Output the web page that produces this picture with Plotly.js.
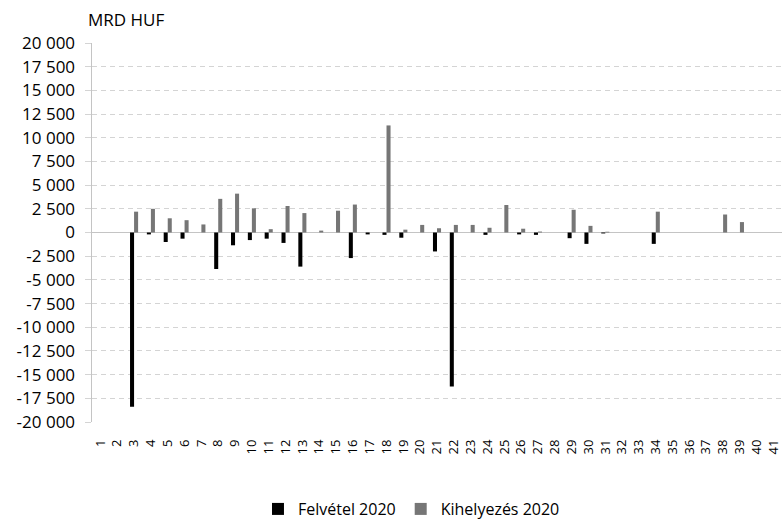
<!DOCTYPE html>
<html>
<head>
<meta charset="utf-8">
<script src="https://cdn.plot.ly/plotly-3.0.1.min.js"></script>
<style>html,body{margin:0;padding:0;background:#fff;}#chart{width:783px;height:521px;}</style>
</head>
<body>
<div id="chart"></div>
<script>
var categories = [1,2,3,4,5,6,7,8,9,10,11,12,13,14,15,16,17,18,19,20,21,22,23,24,25,26,27,28,29,30,31,32,33,34,35,36,37,38,39,40,41];
var felvetel2020 = [0,0,-18400,-200,-1000,-650,0,-3850,-1350,-800,-650,-1100,-3600,0,0,-2700,-200,-250,-550,0,-2000,-16250,0,-250,0,-200,-250,0,-600,-1200,-100,0,0,-1200,0,0,0,0,0,0,0];
var kihelyezes2020 = [0,0,2200,2500,1500,1300,850,3550,4100,2550,350,2800,2050,200,2300,2950,0,11300,300,800,450,800,800,500,2900,400,100,0,2400,700,80,0,0,2200,0,0,0,1900,1100,0,0];
var yTickVals = [20000,17500,15000,12500,10000,7500,5000,2500,0,-2500,-5000,-7500,-10000,-12500,-15000,-17500,-20000];
var yTickText = ["20 000","17 500","15 000","12 500","10 000","7 500","5 000","2 500","0","-2 500","-5 000","-7 500","-10 000","-12 500","-15 000","-17 500","-20 000"];
var seriesNames = ["Felvétel 2020","Kihelyezés 2020"];
var unitLabel = "MRD HUF";

var traces = [
  {type:'bar', name:seriesNames[0], x:categories.map(String), y:felvetel2020, marker:{color:'#000000'}},
  {type:'bar', name:seriesNames[1], x:categories.map(String), y:kihelyezes2020, marker:{color:'#767676'}}
];
var layout = {
  width:783, height:521,
  margin:{l:92, r:1, t:43, b:99, autoexpand:false},
  paper_bgcolor:'#ffffff', plot_bgcolor:'#ffffff',
  font:{family:'Open Sans, sans-serif', color:'#000000', size:16},
  barmode:'group', bargap:0.52, bargroupgap:0,
  showlegend:true,
  legend:{orientation:'h', x:0.463, xanchor:'center', y:-0.2296, yanchor:'middle', font:{size:16, color:'#000'}, traceorder:'normal'},
  xaxis:{type:'category', tickangle:-90, tickfont:{size:13, color:'#000'}, showgrid:false, showline:false, zeroline:false, ticks:'', ticklabelstandoff:14, automargin:false, fixedrange:true},
  yaxis:{range:[-20000,20000], tickvals:yTickVals, ticktext:yTickText, tickfont:{size:17, color:'#000'},
         showgrid:true, gridcolor:'#d4d4d4', griddash:'5px,4px', gridwidth:1,
         zeroline:true, zerolinecolor:'#c4c4c4', zerolinewidth:1.5,
         showline:true, linecolor:'#c4c4c4', linewidth:1.5,
         ticks:'outside', ticklen:6, tickcolor:'#d4d4d4', ticklabelstandoff:6, automargin:false, fixedrange:true},
  annotations:[{text:unitLabel, xref:'paper', yref:'paper', x:-0.009, y:1.061, xanchor:'left', yanchor:'middle', showarrow:false, font:{size:17, color:'#000'}}]
};
Plotly.newPlot('chart', traces, layout, {displayModeBar:false, staticPlot:true});
</script>
</body>
</html>
